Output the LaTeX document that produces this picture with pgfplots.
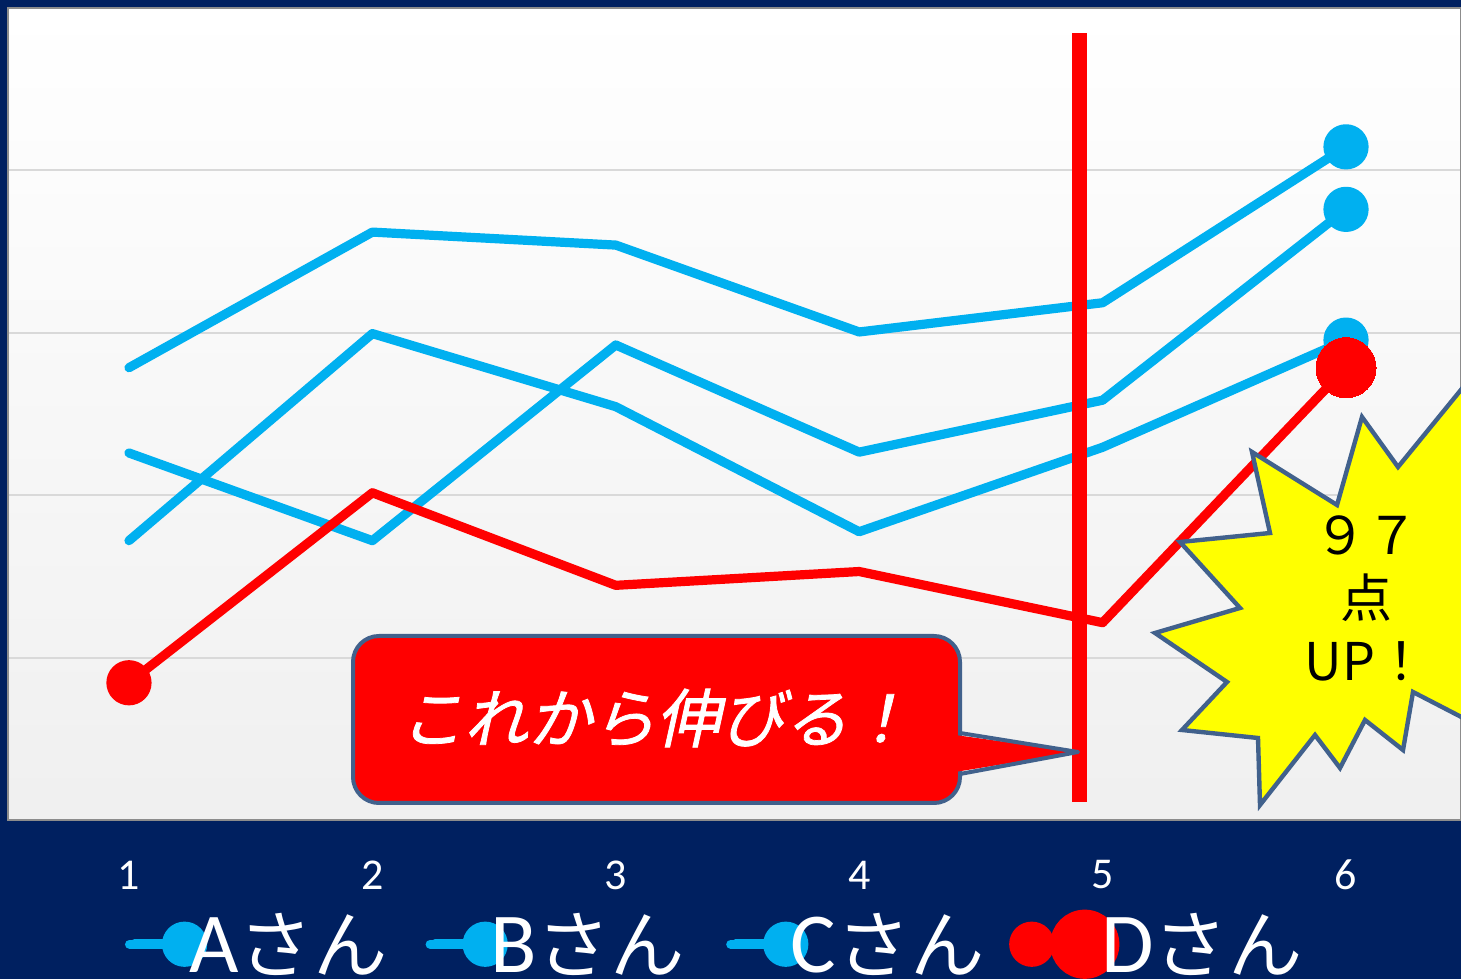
\documentclass[border=0pt]{standalone}
\usepackage{pgfplots}
\pgfplotsset{compat=1.18}
\usepackage{fontspec}
\setmainfont{Carlito}
\newfontfamily\cjk{Noto Sans CJK JP}[Scale=0.87]
\newfontfamily\cjkn{Noto Sans CJK JP}
\newfontfamily\cjkit{Noto Sans CJK JP}[FakeSlant=0.22,FakeBold=1.2]
\definecolor{navy}{RGB}{0,32,96}
\definecolor{cblue}{RGB}{0,176,240}
\definecolor{slate}{RGB}{65,97,140}
\definecolor{yel}{RGB}{255,255,0}
\begin{document}
\begin{tikzpicture}[x=1pt,y=1pt]
\useasboundingbox (0,0) rectangle (730.5,489.5);
\clip (0,0) rectangle (730.5,489.5);
\fill[navy] (0,0) rectangle (730.5,489.5);
\begin{axis}[
  at={(4pt,79.5pt)}, anchor=south west, scale only axis,
  width=726.5pt, height=406pt,
  xmin=0.503, xmax=6.4725, ymin=0, ymax=100,
  axis background/.style={top color=white, bottom color=black!6},
  axis line style={draw=black!45, line width=1pt},
  xtick={1,2,3,4,5,6}, xticklabels={1,2,3,4,5,6},
  ytick={20,40,60,80}, yticklabels={},
  ymajorgrids, grid style={draw=black!15, line width=1pt},
  major tick length=0pt,
  xticklabel style={text=white, font=\fontsize{22}{22}\selectfont, anchor=center, yshift=-27.5pt},
  legend columns=4,
  legend cell align=left,
  legend style={at={(axis description cs:0.0805,-0.1530)}, anchor=west,
    draw=none, fill=none, text=white, font=\fontsize{42.7}{42.7}\selectfont,
    inner sep=0pt, outer sep=0pt, nodes={inner sep=0pt, outer sep=0pt},
    /tikz/column sep=0pt},
]
\addplot[cblue, line width=4.6pt, line join=round, line cap=round,
  mark=*, mark indices={6}, mark size=9pt, mark options={draw=none, fill=cblue},
  legend image code/.code={\draw[cblue, line width=5pt, line cap=round] (0pt,0pt) -- (25pt,0pt);
    \fill[cblue, overlay] (25pt,0pt) circle (9pt); \path (-2.5pt,0pt) -- (25pt,0pt);}]
  coordinates {(1,55.7) (2,72.4) (3,70.8) (4,60.1) (5,63.7) (6,82.9)};
\addlegendentry{\makebox[118pt][l]{A{\cjk さん}}}
\addplot[cblue, line width=4.6pt, line join=round, line cap=round,
  mark=*, mark indices={6}, mark size=9pt, mark options={draw=none, fill=cblue},
  legend image code/.code={\draw[cblue, line width=5pt, line cap=round] (0pt,0pt) -- (25pt,0pt);
    \fill[cblue, overlay] (25pt,0pt) circle (9pt); \path (-2.5pt,0pt) -- (25pt,0pt);}]
  coordinates {(1,45.2) (2,34.4) (3,58.5) (4,45.3) (5,51.7) (6,75.2)};
\addlegendentry{\makebox[118pt][l]{B{\cjk さん}}}
\addplot[cblue, line width=4.6pt, line join=round, line cap=round,
  mark=*, mark indices={6}, mark size=9pt, mark options={draw=none, fill=cblue},
  legend image code/.code={\draw[cblue, line width=5pt, line cap=round] (0pt,0pt) -- (25pt,0pt);
    \fill[cblue, overlay] (25pt,0pt) circle (9pt); \path (-2.5pt,0pt) -- (25pt,0pt);}]
  coordinates {(1,34.4) (2,59.9) (3,50.9) (4,35.5) (5,45.9) (6,59.1)};
\addlegendentry{\makebox[118pt][l]{C{\cjk さん}}}
\addplot[red, line width=4.6pt, line join=round, line cap=round,
  mark=*, mark indices={1}, mark size=9pt, mark options={draw=none, fill=red},
  legend image code/.code={\draw[red, line width=5pt] (-9.5pt,0pt) -- (17pt,0pt);
    \fill[red, overlay] (-9.5pt,0pt) circle (9pt); \fill[red, overlay] (17pt,0pt) circle (15pt);
    \path (-2.5pt,0pt) -- (23pt,0pt);}]
  coordinates {(1,16.9) (2,40.3) (3,28.9) (4,30.6) (5,24.3) (6,55.7)};
\addlegendentry{\makebox[118pt][l]{D{\cjk さん}}}
\addplot[red, forget plot, only marks, mark=*, mark size=15pt, mark options={draw=red, line width=0pt, fill=red}]
  coordinates {(6,55.7)};
\end{axis}
\begin{scope}[x=0.5pt, y=-0.5pt, shift={(0pt,489.5pt)}]
  % vertical red marker line
  \fill[red] (1071.5,33) rectangle (1086.5,802);
  % callout
  \draw[fill=red, draw=slate, line width=2pt, rounded corners=13pt] (353,636) rectangle (960,803);
  \fill[red] (955,735) -- (1078,752) -- (955,772) -- cycle;
  \draw[slate, line width=2pt, line join=round] (960,733) -- (1078,752) -- (960,774);
  \node[text=white, font=\fontsize{32}{32}\cjkit] at (656,718) {これから伸びる！};
  % starburst
  \draw[fill=yel, draw=slate, line width=2.2pt, line join=miter]
    (1362,417) -- (1398,467) -- (1500,342) -- (1530,540) -- (1500,737) -- (1413,692)
    -- (1403,750) -- (1365,720) -- (1340,768) -- (1315,735) -- (1260,805) -- (1258,738)
    -- (1182,730) -- (1227,682) -- (1155,633) -- (1240,608) -- (1180,542) -- (1270,533)
    -- (1252,452) -- (1337,505) -- cycle;
  \node[align=center, font=\fontsize{26}{31.5}\cjkn, text=black] at (1366,598) {９７\\点\\UP！};
\end{scope}
\end{tikzpicture}
\end{document}
